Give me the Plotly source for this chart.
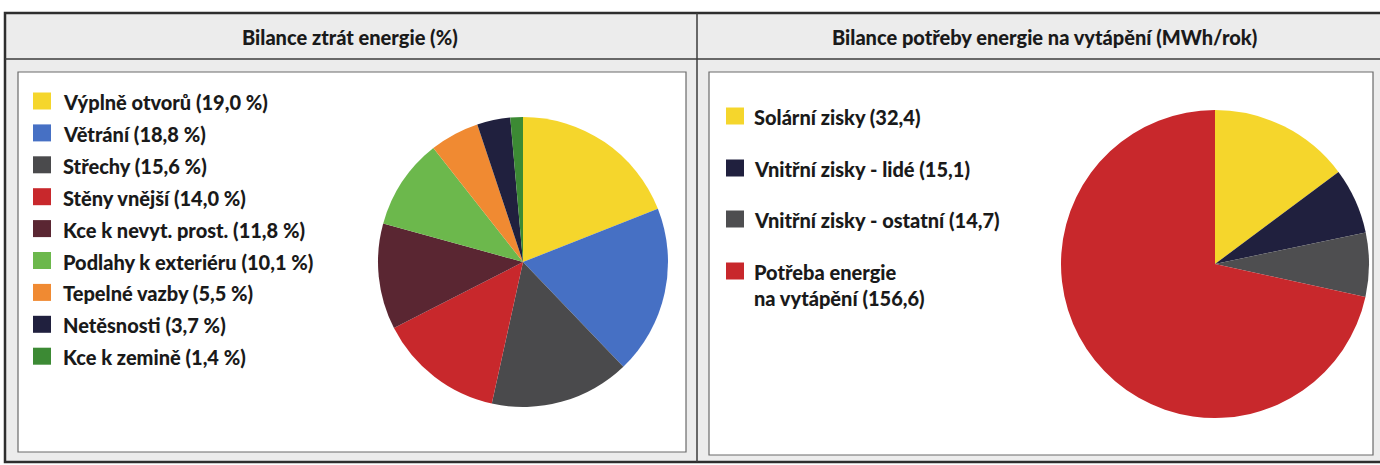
import plotly.graph_objects as go

W, H = 1380, 465

# Data
loss_labels = ["Výplně otvorů", "Větrání", "Střechy", "Stěny vnější",
               "Kce k nevyt. prost.", "Podlahy k exteriéru", "Tepelné vazby",
               "Netěsnosti", "Kce k zemině"]
loss_values = [19.0, 18.8, 15.6, 14.0, 11.8, 10.1, 5.5, 3.7, 1.4]
loss_colors = ["#f5d62c", "#4670c4", "#4a4a4c", "#c8282c", "#5a2632",
               "#6cb84c", "#f08a32", "#20203e", "#3c8a34"]

heat_labels = ["Solární zisky", "Vnitřní zisky - lidé", "Vnitřní zisky - ostatní",
               "Potřeba energie<br>na vytápění"]
heat_values = [32.4, 15.1, 14.7, 156.6]
heat_colors = ["#f5d62c", "#20203e", "#4e4e50", "#c8282c"]

title_left = "Bilance ztrát energie (%)"
title_right = "Bilance potřeby energie na vytápění (MWh/rok)"

FONT = "Lato"
TXT = "#1a1a1a"
WEIGHT = 900


def px(x):
    return x / W


def py(y):
    return 1 - y / H


def pie_domain(cx, cy, r):
    return dict(x=[px(cx - r), px(cx + r)], y=[py(cy + r), py(cy - r)])


fig = go.Figure()
fig.add_trace(go.Pie(
    labels=loss_labels, values=loss_values, sort=False, direction="clockwise",
    rotation=0, marker=dict(colors=loss_colors, line=dict(width=0)),
    textinfo="none", hoverinfo="label+value", domain=pie_domain(523, 262, 145),
    showlegend=False))
fig.add_trace(go.Pie(
    labels=heat_labels, values=heat_values, sort=False, direction="clockwise",
    rotation=0, marker=dict(colors=heat_colors, line=dict(width=0)),
    textinfo="none", hoverinfo="label+value", domain=pie_domain(1215, 264, 154),
    showlegend=False))

shapes = []
annotations = []
# outer frame background
shapes.append(dict(type="rect", xref="paper", yref="paper", x0=px(5), x1=px(1384),
                   y0=py(462), y1=py(13), fillcolor="#ececec",
                   line=dict(color="#2e2e2e", width=2.5), layer="below"))
# header separator
shapes.append(dict(type="line", xref="paper", yref="paper", x0=px(5), x1=px(1384),
                   y0=py(59), y1=py(59), line=dict(color="#3c3c3c", width=1.5)))
# panel divider
shapes.append(dict(type="line", xref="paper", yref="paper", x0=px(697), x1=px(697),
                   y0=py(462), y1=py(13), line=dict(color="#3c3c3c", width=1.5)))
# inner white boxes
shapes.append(dict(type="rect", xref="paper", yref="paper", x0=px(18), x1=px(686),
                   y0=py(452), y1=py(72), fillcolor="white",
                   line=dict(color="#6a6a6a", width=1.2), layer="below"))
shapes.append(dict(type="rect", xref="paper", yref="paper", x0=px(709), x1=px(1373),
                   y0=py(455), y1=py(72), fillcolor="white",
                   line=dict(color="#6a6a6a", width=1.2), layer="below"))

# titles
annotations.append(dict(text=title_left, x=px(350), y=py(37),
                        xref="paper", yref="paper", showarrow=False,
                        xanchor="center", yanchor="middle",
                        font=dict(family=FONT, size=20, color=TXT, weight=WEIGHT)))
annotations.append(dict(text=title_right, x=px(1044), y=py(37),
                        xref="paper", yref="paper", showarrow=False,
                        xanchor="center", yanchor="middle",
                        font=dict(family=FONT, size=20, color=TXT, weight=WEIGHT)))


def fmt(v, pct):
    s = f"{v:.1f}".replace(".", ",")
    return f"({s} %)" if pct else f"({s})"


# left legend
for i, (lab, val, col) in enumerate(zip(loss_labels, loss_values, loss_colors)):
    yc = 101 + i * 31.9
    shapes.append(dict(type="rect", xref="paper", yref="paper", x0=px(33), x1=px(51),
                       y0=py(yc + 8.5), y1=py(yc - 8.5), fillcolor=col, line=dict(width=0)))
    annotations.append(dict(text=lab + " " + fmt(val, True),
                            x=px(61), y=py(yc + 1), xref="paper", yref="paper",
                            xanchor="left", yanchor="middle", showarrow=False,
                            font=dict(family=FONT, size=20, color=TXT, weight=WEIGHT)))

# right legend
right_y = [116, 168, 219, 271]
for i, (lab, val, col) in enumerate(zip(heat_labels, heat_values, heat_colors)):
    yc = right_y[i]
    shapes.append(dict(type="rect", xref="paper", yref="paper", x0=px(726), x1=px(744),
                       y0=py(yc + 8.5), y1=py(yc - 8.5), fillcolor=col, line=dict(width=0)))
    annotations.append(dict(text=lab + " " + fmt(val, False),
                            x=px(752), y=py(yc - 13), xref="paper", yref="paper",
                            xanchor="left", yanchor="top", align="left", showarrow=False,
                            font=dict(family=FONT, size=20, color=TXT, weight=WEIGHT)))

fig.update_layout(width=W, height=H, margin=dict(l=0, r=0, t=0, b=0),
                  paper_bgcolor="white", plot_bgcolor="white",
                  shapes=shapes, annotations=annotations, showlegend=False)

fig.write_html("out.html", config={"displayModeBar": False},
               post_script="document.body.style.margin='0';document.body.style.overflow='hidden';")
